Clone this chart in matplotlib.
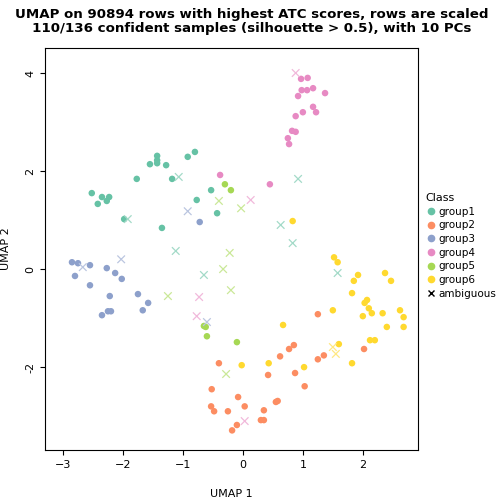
import matplotlib
matplotlib.use("Agg")
import matplotlib.pyplot as plt

g1x=[-1.43,-1.43,-1.43,-1.55,-1.28,-0.92,-0.80,-1.77,-1.18,-2.52,-2.35,-2.23,-2.27,-2.42,-0.53,-0.77,-0.43,-1.98,-1.35]
g1y=[2.31,2.22,2.16,2.14,2.12,2.29,2.39,1.84,1.84,1.55,1.47,1.47,1.39,1.33,1.61,1.41,1.14,1.02,0.84]
g2x=[1.25,0.85,0.77,0.62,1.35,1.25,2.02,-0.40,0.42,0.87,1.03,-0.52,-0.08,-0.53,-0.48,-0.25,0.03,0.35,0.55,0.58,0.30,0.35,-0.10,-0.18]
g2y=[-0.92,-1.55,-1.63,-1.78,-1.76,-1.84,-1.63,-1.92,-2.16,-2.12,-2.39,-2.45,-2.61,-2.80,-2.90,-2.90,-2.80,-2.88,-2.71,-2.69,-3.08,-3.08,-3.18,-3.29]
g3x=[-0.72,-2.85,-2.75,-2.55,-2.80,-2.55,-2.27,-2.13,-2.02,-2.22,-2.35,-2.25,-2.20,-1.75,-1.58,-1.67]
g3y=[0.96,0.14,0.12,0.08,-0.14,-0.33,0.02,-0.08,-0.20,-0.55,-0.94,-0.86,-0.86,-0.51,-0.69,-0.84]
g4x=[0.97,1.08,1.17,0.98,1.07,1.37,0.92,1.17,1.22,1.00,0.88,0.82,0.88,0.75,0.77,-0.38,0.45]
g4y=[3.88,3.90,3.69,3.65,3.65,3.59,3.53,3.31,3.20,3.20,3.12,2.82,2.80,2.67,2.55,1.92,1.73]
g5x=[-0.30,-0.20,-0.65,-0.62,-0.60,-0.10]
g5y=[1.73,1.61,-1.16,-1.18,-1.37,-1.49]
g6x=[0.83,1.52,1.58,1.92,1.85,2.37,2.47,1.82,2.07,2.03,2.10,2.15,2.00,2.33,2.62,2.68,2.40,2.68,2.12,2.20,1.50,1.60,1.82,-0.02,0.43,1.02,0.67]
g6y=[0.98,0.24,0.14,-0.12,-0.24,-0.08,-0.24,-0.49,-0.63,-0.69,-0.80,-0.90,-0.96,-0.90,-0.84,-0.98,-1.18,-1.18,-1.45,-1.45,-0.84,-1.53,-1.92,-1.96,-1.92,-2.00,-1.14]
amx=[-1.12,-0.22,0.83,-2.03,-2.67,-0.33,-0.65,1.58,-0.20,-1.25,-0.73,-0.77,-0.60,1.50,1.55,-0.28,0.03,0.88,-1.07,0.92,-0.40,-0.03,0.13,-0.92,-1.92,0.63]
amy=[0.37,0.33,0.53,0.20,0.04,0.0,-0.12,-0.08,-0.43,-0.55,-0.57,-0.96,-1.08,-1.59,-1.73,-2.14,-3.10,4.0,1.88,1.84,1.39,1.24,1.41,1.18,1.02,0.90]
amc=[1,5,1,3,3,5,1,1,5,5,4,4,3,6,6,5,4,4,1,1,5,5,4,3,1,1]

cols={1:"#66C2A5",2:"#FC8D62",3:"#8DA0CB",4:"#E78AC3",5:"#A6D854",6:"#FFD92F"}
light={1:"#A3DAC8",2:"#FDBBA0",3:"#BBC6E0",4:"#F1B9DB",5:"#CAE898",6:"#FFE882"}

fig=plt.figure(figsize=(5.04,5.04),dpi=100)
ax=fig.add_axes([45/504,1-450/504,373/504,402/504])
for k,(x,y) in enumerate([(g1x,g1y),(g2x,g2y),(g3x,g3y),(g4x,g4y),(g5x,g5y),(g6x,g6y)],1):
    ax.scatter(x,y,s=22,c=cols[k],edgecolors="none")
ax.scatter(amx,amy,s=30,marker="x",c=[light[c] for c in amc],linewidths=0.9)
ax.set_xlim(-3.3,2.92); ax.set_ylim(-3.69,4.51)
ax.set_xticks([-3,-2,-1,0,1,2]); ax.set_yticks([-2,0,2,4])
ax.set_yticklabels(["-2","0","2","4"],rotation=90,va="center")
ax.tick_params(labelsize=8)
ax.set_xlabel("UMAP 1",fontsize=8,labelpad=14)
ax.set_ylabel("UMAP 2",fontsize=8,labelpad=10)
fig.suptitle("UMAP on 90894 rows with highest ATC scores, rows are scaled\n110/136 confident samples (silhouette > 0.5), with 10 PCs",
             fontsize=9.6,fontweight="bold",y=0.985,linespacing=1.1)
labels=["group1","group2","group3","group4","group5","group6"]
h=[plt.Line2D([],[],ls="",marker="o",ms=4.5,color=cols[i+1]) for i in range(6)]
h.append(plt.Line2D([],[],ls="",marker="x",ms=5,color="black"))
fig.legend(h,labels+["ambiguous"],title="Class",loc="upper left",bbox_to_anchor=(0.835,0.625),
           frameon=False,fontsize=7.5,title_fontsize=8,handletextpad=0.1,handlelength=1.2,labelspacing=0.35,alignment="left",borderaxespad=0)
fig.savefig("out.png")
